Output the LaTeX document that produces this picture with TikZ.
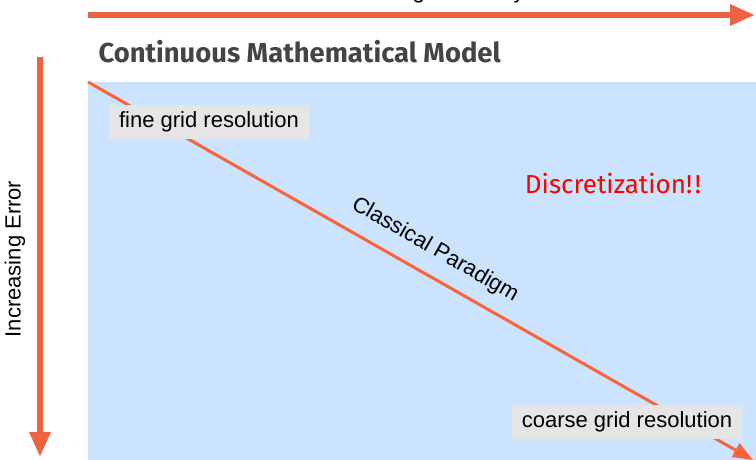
\documentclass[tikz,border=0pt]{standalone}
\usepackage{fontspec}
\setmainfont{Liberation Sans}
\newfontfamily\firafont{Fira Sans}
\usetikzlibrary{arrows.meta,positioning}
\definecolor{axisorange}{RGB}{236,99,66}
\definecolor{lineorange}{RGB}{250,100,56}
\definecolor{modelblue}{RGB}{203,227,252}
\definecolor{boxgray}{RGB}{229,229,229}
\definecolor{titlegray}{RGB}{68,68,66}

\begin{document}
\begin{tikzpicture}[
            x=1pt, y=-1pt,
            axis/.style={-{Triangle[length=25pt,width=20pt]}, line width=6pt, draw=axisorange},
            paradigm/.style={-{Triangle[length=20pt,width=15pt]}, line width=3pt, draw=lineorange},
            gridlabel/.style={fill=boxgray, inner xsep=10pt, minimum height=34pt, font=\fontsize{22}{26}\selectfont},
            axislabel/.style={font=\fontsize{22}{26}\selectfont}
        ]
            \useasboundingbox (0,0) rectangle (756,460);
            \fill[modelblue] (88,82) rectangle (756,460);

            % axes
            \coordinate (htail) at (88,15);
            \coordinate (hhead) at (755,15);
            \coordinate (vtail) at (40,57);
            \coordinate (vhead) at (40,457);
            \draw[axis] (htail) -- (hhead);
            \draw[axis] (vtail) -- (vhead);
            \node[axislabel, anchor=base] (efficiency) at (424,-1.5) {Increasing Efficiency};
            \node[axislabel, rotate=90] (error) at (15,259) {Increasing Error};

            \node[anchor=base west, font=\firafont\bfseries\fontsize{27.4}{32}\selectfont, text=titlegray] (model) at (95,63) {Continuous Mathematical Model};

            % paradigm line
            \coordinate (fine) at (88,82);
            \coordinate (coarse) at (753,460);
            \draw[paradigm] (fine) -- (coarse);
            \node[gridlabel] (finelabel) at (209,122) {fine grid resolution};
            \node[gridlabel] (coarselabel) at (627,422) {coarse grid resolution};
            \node[axislabel, rotate=-29.9] (classical) at (435,250) {Classical Paradigm};

            \node[font=\firafont\fontsize{26}{31}\selectfont, text=red] (discrete) at (613,184) {Discretization!\kern2.5pt!};
        \end{tikzpicture}
\end{document}
